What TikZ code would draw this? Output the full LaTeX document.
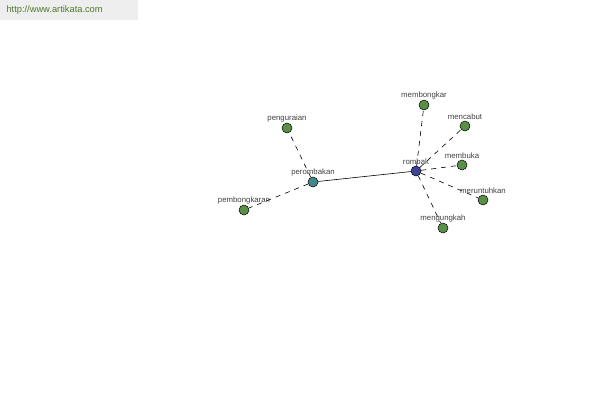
\documentclass[tikz,border=0pt]{standalone}
\usepackage{fontspec}
\setmainfont{Liberation Sans}
\usepackage{xcolor}
\usetikzlibrary{positioning}
\definecolor{leafgreen}{HTML}{5A8F48}
\definecolor{hubblue}{HTML}{3C4596}
\definecolor{midteal}{HTML}{3F8A88}
\definecolor{urlgreen}{HTML}{4F7A2A}
\definecolor{bargray}{HTML}{EEEEEE}

\begin{document}
\begin{tikzpicture}[
  x=1pt, y=-1pt,
  word/.style={circle, draw=black, line width=0.5pt, minimum size=10pt, inner sep=0pt},
  leaf/.style={word, fill=leafgreen},
  lbl/.style={font=\fontsize{7.8}{9}\selectfont, text=black!75, inner sep=0.5pt},
  syn/.style={dashed, dash pattern=on 5pt off 5pt, line width=0.6pt},
  link/.style={line width=0.6pt}]
\useasboundingbox (0,0) rectangle (600,400);
\fill[bargray] (0,0) rectangle (138,20);
\node[anchor=west, font=\fontsize{9.3}{11}\selectfont, text=urlgreen] (url) at (3,10.5) {http://www.artikata.com};
% central words
\node[word, fill=hubblue, label={[lbl]above:rombak}] (rombak) at (416,171) {};
\node[word, fill=midteal, label={[lbl]above:perombakan}] (perombakan) at (313,182) {};
% leaves
\node[leaf, label={[lbl]above:penguraian}] (penguraian) at (287,128) {};
\node[leaf, label={[lbl]above:pembongkaran}] (pembongkaran) at (244,210) {};
\node[leaf, label={[lbl]above:membongkar}] (membongkar) at (424,105) {};
\node[leaf, label={[lbl]above:mencabut}] (mencabut) at (465,126) {};
\node[leaf, label={[lbl]above:membuka}] (membuka) at (462,165) {};
\node[leaf, label={[lbl]above:meruntuhkan}] (meruntuhkan) at (483,200) {};
\node[leaf, label={[lbl]above:mengungkah}] (mengungkah) at (443,228) {};
\draw[link] (perombakan) -- (rombak);
\foreach \a/\b in {perombakan/penguraian,perombakan/pembongkaran,rombak/membongkar,rombak/mencabut,rombak/membuka,rombak/meruntuhkan,rombak/mengungkah}
  \draw[syn] (\a) -- (\b);
\end{tikzpicture}
\end{document}
